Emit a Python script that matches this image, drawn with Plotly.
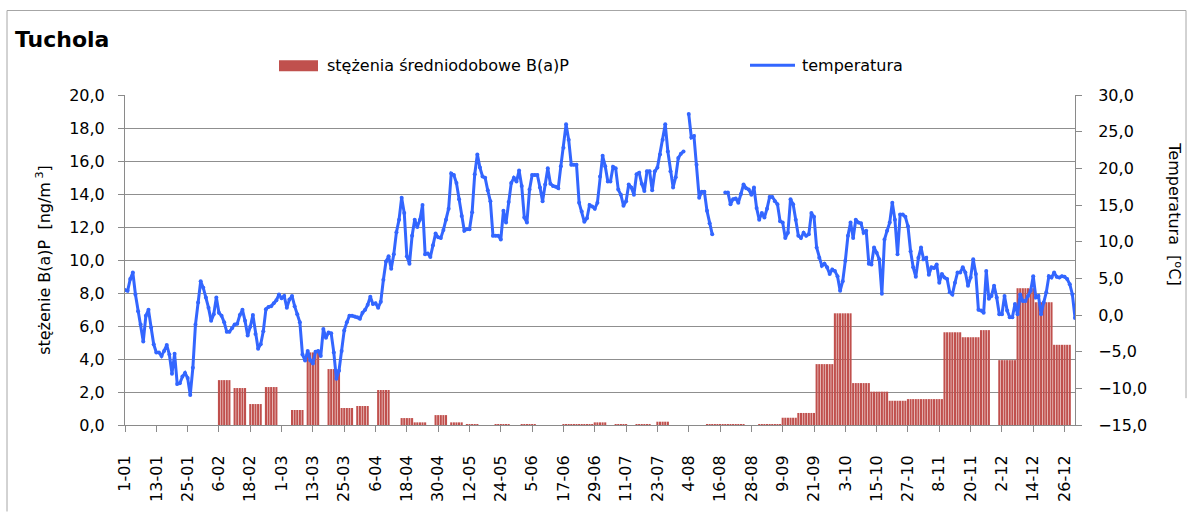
import plotly.graph_objects as go

# ---------------- data ----------------
tick_labels = ["1-01", "13-01", "25-01", "6-02", "18-02", "1-03", "13-03", "25-03",
               "6-04", "18-04", "30-04", "12-05", "24-05", "5-06", "17-06", "29-06",
               "11-07", "23-07", "4-08", "16-08", "28-08", "9-09", "21-09", "3-10",
               "15-10", "27-10", "8-11", "20-11", "2-12", "14-12", "26-12"]

# daily mean temperature [°C], day 0 = 1 January
temperature = [
    3.4, 3.3, 4.9, 5.8, 2.8, 0.5, -1.3, -3.6, -0.1, 0.7,
    -1.7, -4.0, -5.1, -5.1, -5.6, -4.9, -4.1, -5.4, -8.0, -5.3,
    -9.4, -9.3, -8.4, -7.9, -8.6, -10.9, -7.2, -1.3, 1.7, 4.6,
    3.7, 2.4, 1.0, -0.8, 0.1, 2.4, 0.3, -0.1, -1.0, -2.3,
    -2.3, -1.8, -1.3, -1.2, 0.0, 0.7, -0.8, -2.8, -1.6, 0.0,
    -2.6, -4.6, -4.0, -2.2, 0.8, 1.1, 1.2, 1.6, 2.0, 2.8,
    2.3, 2.6, 1.0, 2.1, 2.6, 1.2, 0.1, -1.0, -5.4, -6.2,
    -4.9, -6.2, -6.6, -5.0, -4.9, -5.6, -1.9, -3.1, -2.4, -2.5,
    -5.1, -8.7, -7.6, -4.9, -2.1, -1.0, -0.1, -0.1, -0.2, -0.3,
    -0.5, 0.3, 0.7, 1.4, 2.5, 1.5, 1.6, 1.0, 1.8, 4.8,
    7.3, 8.0, 6.3, 8.3, 11.3, 13.0, 16.0, 13.9, 8.0, 7.0,
    10.8, 13.0, 12.0, 13.0, 15.0, 8.3, 8.4, 7.9, 9.5, 11.1,
    10.6, 10.5, 11.6, 13.0, 14.5, 19.3, 19.1, 18.0, 15.8, 13.5,
    11.5, 11.7, 11.7, 14.0, 19.2, 21.9, 20.1, 18.9, 18.7, 17.0,
    15.5, 10.8, 10.8, 10.8, 10.3, 14.2, 12.6, 15.4, 18.0, 18.7,
    18.2, 19.7, 17.6, 13.3, 12.6, 17.1, 19.1, 19.1, 19.1, 17.4,
    15.5, 17.8, 20.0, 17.9, 17.6, 17.5, 17.3, 20.3, 22.8, 26.0,
    23.9, 20.5, 20.5, 20.5, 15.3, 14.1, 12.7, 13.2, 15.0, 14.8,
    14.5, 15.3, 18.9, 21.7, 20.3, 18.2, 18.2, 20.2, 20.0, 17.1,
    16.4, 14.9, 15.5, 17.8, 17.4, 16.4, 19.2, 19.4, 17.9, 16.9,
    19.6, 19.6, 17.0, 19.6, 20.1, 21.9, 23.9, 26.0, 22.3, 19.6,
    17.4, 18.8, 21.4, 22.0, 22.3, None, 27.4, 24.2, 24.4, 20.5,
    16.0, 16.8, 16.8, 14.2, 12.5, 11.0, None, None, None, None,
    16.7, 16.7, 15.1, 15.8, 15.9, 15.3, 16.5, 17.8, 17.3, 17.1,
    16.4, 17.4, 14.6, 13.0, 13.9, 13.3, 14.5, 16.1, 16.1, 15.5,
    15.1, 12.8, 12.6, 10.5, 11.2, 15.8, 15.1, 13.0, 10.8, 10.5,
    11.2, 10.8, 11.0, 13.9, 13.4, 9.2, 7.8, 6.7, 7.0, 6.5,
    5.6, 6.2, 6.0, 5.3, 3.3, 4.6, 7.4, 10.8, 12.6, 10.5,
    13.0, 12.6, 12.5, 11.2, 11.5, 7.0, 6.9, 9.2, 8.5, 7.6,
    2.9, 10.3, 11.5, 12.6, 15.3, 13.0, 8.3, 13.7, 13.7, 13.4,
    12.1, 8.7, 6.5, 5.2, 7.8, 9.2, 7.6, 7.8, 5.5, 6.5,
    6.4, 6.9, 4.4, 5.6, 5.1, 4.9, 3.1, 2.8, 4.4, 5.8,
    5.8, 6.5, 5.8, 4.0, 5.1, 7.6, 5.6, 0.7, 0.6, 0.3,
    6.0, 2.2, 2.6, 4.0, 2.4, 0.1, 0.1, 2.6, 0.6, -0.3,
    -0.3, 1.5, 0.1, 2.8, 1.9, 1.9, 2.6, 3.3, 5.3, 2.4,
    2.6, 0.1, 1.7, 3.1, 5.3, 5.1, 5.8, 5.2, 5.1, 5.3,
    5.2, 4.9, 4.2, 2.8, -0.4,
]

# B(a)P sampling periods: first day, last day (day index), concentration [ng/m3]
bap_first_day = [36, 42, 48, 54, 64, 70, 78, 83, 89, 97, 106, 111, 119, 125, 131,
                 142, 152, 168, 180, 188, 196, 204, 223, 243, 252, 258, 265, 272,
                 279, 286, 293, 300, 314, 321, 328, 335, 342, 349, 356]
bap_last_day = [40, 46, 52, 58, 68, 74, 82, 87, 93, 101, 110, 115, 123, 129, 135,
                147, 157, 179, 184, 192, 201, 208, 237, 251, 257, 264, 271, 278,
                285, 292, 299, 313, 320, 327, 331, 341, 348, 355, 362]
bap_value = [2.72, 2.24, 1.27, 2.30, 0.91, 4.40, 3.39, 1.03, 1.15, 2.12, 0.42, 0.16,
             0.60, 0.16, 0.04, 0.05, 0.05, 0.05, 0.16, 0.04, 0.04, 0.20, 0.04, 0.04,
             0.44, 0.73, 3.69, 6.77, 2.54, 2.02, 1.47, 1.57, 5.62, 5.32, 5.75, 3.93,
             8.29, 7.44, 4.86]

# ---------------- build ----------------
days = list(range(len(temperature)))
bap = [None] * len(days)
for first, last, val in zip(bap_first_day, bap_last_day, bap_value):
    for d in range(first, last + 1):
        bap[d] = val

FONT = "DejaVu Sans"
GRID = "#8f8f8f"
AXIS = "#8a8a8a"
FS = 16

fig = go.Figure()
fig.add_trace(go.Bar(
    x=days, y=bap, name="stężenia średniodobowe B(a)P",
    marker=dict(color="#C0504D", line=dict(width=0)),
    yaxis="y", showlegend=False,
))
fig.add_trace(go.Scatter(
    x=days, y=temperature, name="temperatura", mode="lines+markers",
    line=dict(color="#3366FF", width=3), marker=dict(color="#3366FF", size=4),
    connectgaps=False, yaxis="y2", showlegend=False,
))

W, H = 1192, 514
ML, MR, MT, MB = 125, 117, 95, 87
PW, PH = W - ML - MR, H - MT - MB


def px(x):
    return (x - ML) / PW


def py(y):
    return (H - MB - y) / PH


fig.update_layout(
    width=W, height=H,
    margin=dict(l=ML, r=MR, t=MT, b=MB, pad=0),
    paper_bgcolor="white", plot_bgcolor="white",
    separators=", ",
    bargap=0.2,
    font=dict(family=FONT, size=FS, color="black"),
    xaxis=dict(
        range=[0, 364], tickmode="array",
        tickvals=list(range(0, 12 * len(tick_labels), 12)), ticktext=tick_labels,
        tickangle=-90, ticks="outside", ticklen=6, tickcolor=AXIS,
        ticklabelstandoff=17,
        showline=True, linecolor=AXIS, linewidth=1, showgrid=False, zeroline=False,
        tickfont=dict(family=FONT, size=FS),
    ),
    yaxis=dict(
        range=[0, 20], dtick=2, tickformat=".1f",
        showgrid=True, gridcolor=GRID, gridwidth=1,
        showline=True, linecolor=AXIS, ticks="outside", ticklen=6, tickcolor=AXIS,
        ticklabelstandoff=10,
        zeroline=False, tickfont=dict(family=FONT, size=FS),
        title=dict(text="stężenie B(a)P  [ng/m<sup> 3</sup>]",
                   font=dict(family=FONT, size=FS), standoff=14),
    ),
    yaxis2=dict(
        range=[-15, 30], dtick=5, tickformat=".1f", overlaying="y", side="right",
        showgrid=False, showline=True, linecolor=AXIS, ticks="outside", ticklen=6,
        ticklabelstandoff=13,
        tickcolor=AXIS, zeroline=False, tickfont=dict(family=FONT, size=FS),
    ),
)

annotations = [
    dict(text="Tuchola", x=px(13), y=py(39), xref="paper", yref="paper",
         xanchor="left", yanchor="middle", showarrow=False,
         font=dict(family=FONT, size=22, weight="bold", color="black")),
    dict(text="stężenia średniodobowe B(a)P", x=px(325), y=py(65), xref="paper",
         yref="paper", xanchor="left", yanchor="middle", showarrow=False,
         font=dict(family=FONT, size=FS)),
    dict(text="temperatura", x=px(800), y=py(65), xref="paper", yref="paper",
         xanchor="left", yanchor="middle", showarrow=False,
         font=dict(family=FONT, size=FS)),
    dict(text="Temperatura  [<sup>o</sup>C]", x=px(1175), y=py(214), xref="paper",
         yref="paper", xanchor="center", yanchor="middle", textangle=90,
         showarrow=False, font=dict(family=FONT, size=FS)),
]

shapes = [
    dict(type="rect", xref="paper", yref="paper", x0=px(279), x1=px(318),
         y0=py(71), y1=py(60), fillcolor="#C0504D", line=dict(width=0)),
    dict(type="line", xref="paper", yref="paper", x0=px(750), x1=px(795),
         y0=py(65), y1=py(65), line=dict(color="#3366FF", width=3)),
    dict(type="line", xref="paper", yref="paper", x0=px(7), x1=px(1186),
         y0=py(10), y1=py(10), line=dict(color="#a6a6a6", width=1)),
    dict(type="line", xref="paper", yref="paper", x0=px(7), x1=px(7),
         y0=py(10), y1=py(514), line=dict(color="#a6a6a6", width=1)),
    dict(type="line", xref="paper", yref="paper", x0=px(1186), x1=px(1186),
         y0=py(10), y1=py(400), line=dict(color="#a6a6a6", width=1)),
]

fig.update_layout(annotations=annotations, shapes=shapes)
fig.write_html("out.html",
               config={"displayModeBar": False},
               post_script="document.body.style.margin='0px';"
                           "document.body.style.overflow='hidden';")
